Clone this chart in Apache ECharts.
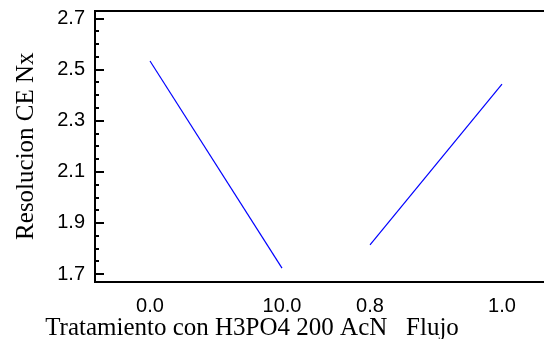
<!DOCTYPE html>
<html>
<head>
<meta charset="utf-8">
<script src="https://cdn.jsdelivr.net/npm/echarts@6/dist/echarts.min.js"></script>
<style>
html,body{margin:0;padding:0;background:#fff;}
#chart{width:544px;height:339px;}
</style>
</head>
<body>
<div id="chart"></div>
<script>
// ---- data ----
const factorNames = ["Tratamiento con H3PO4 200 AcN", "Flujo"];
const levelLabels = [["0.0", "10.0"], ["0.8", "1.0"]];
const meanValues = [[2.533, 1.723], [1.814, 2.443]];
const yTickValues = [1.7, 1.9, 2.1, 2.3, 2.5, 2.7];
const yAxisTitle = "Resolucion CE Nx";

// ---- layout helpers ----
const FACTOR_STEP = 5, LEVEL_STEP = 3;
const posLabel = {};
const series = [];
factorNames.forEach((f, i) => {
  const pts = levelLabels[i].map((lab, j) => {
    const x = i * FACTOR_STEP + j * LEVEL_STEP;
    posLabel[x] = lab;
    return [x, meanValues[i][j]];
  });
  series.push({
    type: 'line', xAxisIndex: 1, yAxisIndex: 1, data: pts,
    symbol: 'none', lineStyle: { color: '#0000ff', width: 1.2 }, silent: true, animation: false
  });
});

const XMIN = -1.25, XMAX = 9.25;
const chart = echarts.init(document.getElementById('chart'), null, { renderer: 'canvas' });
chart.setOption({
  animation: false,
  grid: [
    { left: 95, top: 11, width: 462, height: 271, outerBoundsMode: 'none', containLabel: false,
      show: true, borderColor: '#000', borderWidth: 2, backgroundColor: 'transparent' },
    { left: 95, top: 18.3, width: 462, height: 255.7, outerBoundsMode: 'none', containLabel: false }
  ],
  xAxis: [
    { gridIndex: 0, type: 'value', min: XMIN, max: XMAX, interval: 0.25,
      axisLine: { show: false }, axisTick: { show: false }, splitLine: { show: false },
      axisLabel: { interval: 0, margin: 14, color: '#000', fontFamily: 'Liberation Sans, Arial', fontSize: 20,
        formatter: v => { const k = Math.round(v * 100) / 100; return posLabel[k] !== undefined ? posLabel[k] : ''; } } },
    { gridIndex: 1, type: 'value', min: XMIN, max: XMAX, show: false }
  ],
  yAxis: [
    { gridIndex: 0, type: 'value', show: false },
    { gridIndex: 1, type: 'value', min: 1.7, max: 2.7, interval: 0.2,
      axisLine: { show: false, onZero: false },
      axisTick: { show: true, inside: true, length: 9, lineStyle: { color: '#000', width: 2 } },
      minorTick: { show: true, splitNumber: 4, length: 4, lineStyle: { color: '#000', width: 2 } },
      splitLine: { show: false },
      axisLabel: { margin: 10, color: '#000', fontFamily: 'Liberation Sans, Arial', fontSize: 20,
        formatter: v => v.toFixed(1) },
      name: yAxisTitle, nameLocation: 'middle', nameGap: 56, nameRotate: 90,
      nameTextStyle: { color: '#000', fontFamily: 'Liberation Serif, Times New Roman', fontSize: 25 } }
  ],
  graphic: [
    { type: 'text', x: 252, y: 328, style: { text: factorNames.join('   '),
      font: '25px "Liberation Serif", "Times New Roman"', fill: '#000',
      textAlign: 'center', textVerticalAlign: 'middle' } }
  ],
  series: series
});
</script>
</body>
</html>
